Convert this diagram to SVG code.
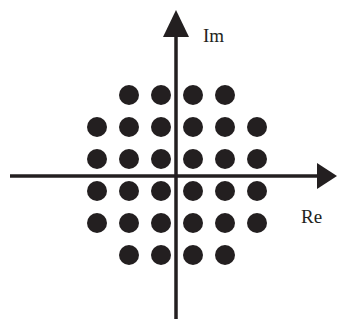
<svg xmlns="http://www.w3.org/2000/svg" width="338" height="323" viewBox="0 0 338 323">
<style>
.dot{fill:#231f20}
.ax{stroke:#231f20;stroke-width:3.5;fill:none}
.head{fill:#231f20}
.lbl{font-family:"Liberation Serif","DejaVu Serif",serif;font-size:19px;fill:#231f20}
</style>
<rect width="338" height="323" fill="#fff"/>
<g id="connectors">
<line class="ax" x1="10" y1="176" x2="320" y2="176"/>
<polygon class="head" points="337,176 317,163 317,189"/>
<line class="ax" x1="176" y1="319" x2="176" y2="33"/>
<polygon class="head" points="176,10 163,37 189,37"/>
</g>
<g id="label-im"><text class="lbl" x="203" y="42">Im</text></g>
<g id="label-re"><text class="lbl" x="301" y="223">Re</text></g>
<g id="points">
<circle class="dot" cx="129" cy="95" r="10"/><circle class="dot" cx="161" cy="95" r="10"/><circle class="dot" cx="193" cy="95" r="10"/><circle class="dot" cx="225" cy="95" r="10"/>
<circle class="dot" cx="97" cy="127" r="10"/><circle class="dot" cx="129" cy="127" r="10"/><circle class="dot" cx="161" cy="127" r="10"/><circle class="dot" cx="193" cy="127" r="10"/><circle class="dot" cx="225" cy="127" r="10"/><circle class="dot" cx="257" cy="127" r="10"/>
<circle class="dot" cx="97" cy="159" r="10"/><circle class="dot" cx="129" cy="159" r="10"/><circle class="dot" cx="161" cy="159" r="10"/><circle class="dot" cx="193" cy="159" r="10"/><circle class="dot" cx="225" cy="159" r="10"/><circle class="dot" cx="257" cy="159" r="10"/>
<circle class="dot" cx="97" cy="191" r="10"/><circle class="dot" cx="129" cy="191" r="10"/><circle class="dot" cx="161" cy="191" r="10"/><circle class="dot" cx="193" cy="191" r="10"/><circle class="dot" cx="225" cy="191" r="10"/><circle class="dot" cx="257" cy="191" r="10"/>
<circle class="dot" cx="97" cy="223" r="10"/><circle class="dot" cx="129" cy="223" r="10"/><circle class="dot" cx="161" cy="223" r="10"/><circle class="dot" cx="193" cy="223" r="10"/><circle class="dot" cx="225" cy="223" r="10"/><circle class="dot" cx="257" cy="223" r="10"/>
<circle class="dot" cx="129" cy="255" r="10"/><circle class="dot" cx="161" cy="255" r="10"/><circle class="dot" cx="193" cy="255" r="10"/><circle class="dot" cx="225" cy="255" r="10"/>
</g>
</svg>
